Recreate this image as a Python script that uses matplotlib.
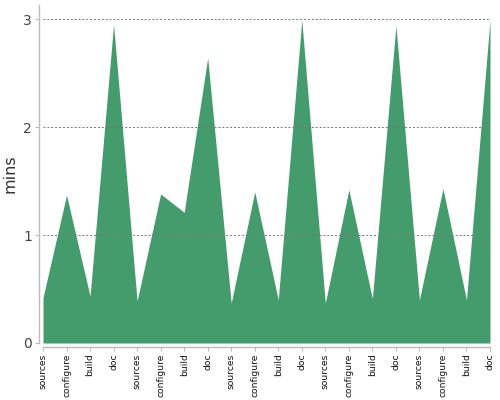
import matplotlib
matplotlib.use("Agg")
import matplotlib.pyplot as plt
import numpy as np

categories = ["sources", "configure", "build", "doc"] * 5
values = [0.42, 1.37, 0.435, 2.95,
          0.39, 1.38, 1.21, 2.64,
          0.37, 1.40, 0.40, 2.99,
          0.37, 1.42, 0.41, 2.94,
          0.40, 1.43, 0.40, 2.99]
yticks = [0, 1, 2, 3]

fig = plt.figure(figsize=(5, 4), dpi=100)
ax = fig.add_axes([43/500, 57/400, 447/500, 338/400])
for s in ["top", "right"]:
    ax.spines[s].set_visible(False)
ax.spines["left"].set_position(("outward", 3))
ax.spines["bottom"].set_position(("outward", 3))
for s in ["left", "bottom"]:
    ax.spines[s].set_color("#bbbbbb")
    ax.spines[s].set_linewidth(1)

x = np.arange(len(values))
ax.fill_between(x, 0, values, color="#449c6d", linewidth=0)
ax.set_xlim(0, len(values) - 1)
ax.set_ylim(0, 3.13)
ax.set_yticks(yticks)
ax.set_yticklabels([str(t) for t in yticks], fontsize=10, color="#444444")
ax.set_xticks(x)
ax.set_xticklabels(categories, rotation=90, fontsize=6.6, color="#111111")
ax.yaxis.grid(True, linestyle=(0, (2, 2)), color="#777777", linewidth=0.7)
ax.set_axisbelow(False)
ax.tick_params(axis="both", length=3, color="#bbbbbb", pad=2)
ax.tick_params(axis="x", pad=1.5)
ax.set_ylabel("mins", fontsize=11.5, color="#333333", labelpad=4)
fig.savefig("out.png", dpi=100)
